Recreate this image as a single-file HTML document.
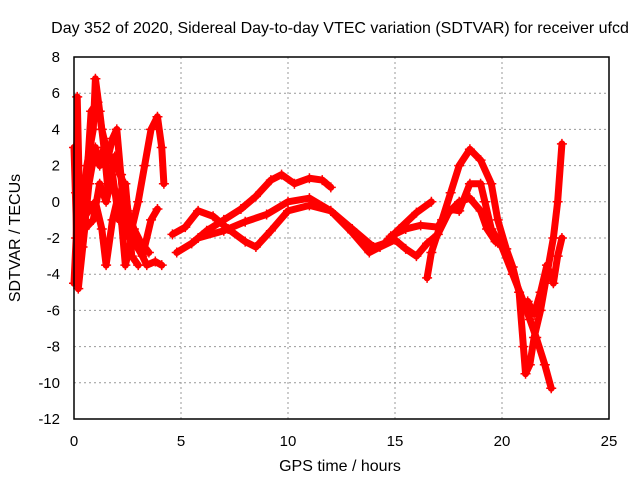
<!DOCTYPE html>
<html><head><meta charset="utf-8"><style>
body{margin:0;background:#fff}
svg{display:block;font-family:"Liberation Sans",sans-serif}
</style></head><body>
<svg id="chart" width="640" height="480">
<rect width="640" height="480" fill="#fff"/>
<text x="340" y="33" font-size="16" text-anchor="middle" fill="#000">Day 352 of 2020, Sidereal Day-to-day VTEC variation (SDTVAR) for receiver ufcd</text>
<text x="340" y="471" font-size="16" text-anchor="middle">GPS time / hours</text>
<text transform="translate(20,238) rotate(-90)" font-size="16" text-anchor="middle">SDTVAR / TECUs</text>
<g id="grid"></g><g id="series"></g>
<rect x="74" y="57" width="535" height="362" fill="none" stroke="#000" stroke-width="1.5"/>
</svg>
<script>
const xTicks=[0,5,10,15,20,25];
const yTicks=[8,6,4,2,0,-2,-4,-6,-8,-10,-12];
const trackA=[[4.8,-2.8],[5.5,-2.3],[6.2,-1.6],[7,-1],[7.8,-0.4],[8.5,0.3],[9.2,1.2],[9.7,1.5],[10.3,1.0],[11,1.3],[11.6,1.2],[12,0.8]];
const trackB=[[4.6,-1.8],[5.2,-1.4],[5.8,-0.5],[6.5,-0.8],[7.2,-1.5],[8,-2.2],[8.5,-2.5],[9.2,-1.6],[10,-0.5],[11,-0.2],[12,-0.5],[13,-1.5],[14,-2.5],[14.5,-2.3],[15.2,-1.5],[16,-0.6],[16.7,0]];
const trackC=[[5.8,-2],[7,-1.6],[8,-1.1],[9,-0.7],[10,0],[11,0.2],[12,-0.5],[13,-1.7],[13.8,-2.8],[14.3,-2.5],[15,-2.1],[15.5,-2.6],[16,-3],[16.5,-2.3],[17,-1.8],[17.5,-0.6],[18,0],[18.5,0.2],[19,-0.5],[19.3,-1.5],[19.7,-2.2],[20,-2.4]];
const trackD=[[16.5,-4.2],[16.7,-2.8],[17.2,-1],[17.6,0.5],[18,2],[18.5,2.9],[19,2.3],[19.5,1],[19.8,-1],[20.2,-2.6],[20.5,-3.6],[20.8,-5],[21,-8],[21.1,-9.5],[21.3,-9],[21.5,-7.5],[21.8,-6],[22.1,-4],[22.4,-2],[22.6,0],[22.8,3.2]];
const trackE=[[14.8,-1.9],[15.5,-1.5],[16.2,-1.3],[17,-1.4],[17.5,-0.4],[18,-0.5],[18.5,1],[19,1],[19.2,0],[19.5,-1.5],[20,-2.5],[20.5,-4],[21,-5.5],[21.3,-6.5],[21.6,-7.5],[22,-9],[22.3,-10.3]];
const trackF=[[21.2,-5.5],[21.5,-6.2],[21.8,-5],[22.1,-3.5],[22.4,-4.5],[22.6,-3],[22.8,-2]];
const trackG=[[0,-4.5],[0.1,-2],[0.15,5.8],[0.3,-2],[0.6,2],[0.9,4],[1.0,6.8],[1.2,5],[1.5,2],[1.8,3.5],[2,4],[2.3,0],[2.6,-2],[3,0],[3.3,2],[3.6,4],[3.9,4.7],[4.1,3],[4.2,1]];
const trackH=[[0.2,-3],[0.5,-0.5],[0.8,5],[1.1,5.5],[1.3,4],[1.6,2.5],[2,2],[2.3,1],[2.6,-1],[3,-2.5],[3.4,-3.5],[3.8,-3.3],[4.1,-3.5]];
const trackI=[[0.3,-1],[0.7,-0.5],[1,0],[1.3,-1.5],[1.5,-3.5],[1.8,-1],[2.1,0.5],[2.4,-3.5],[2.7,-2],[3.2,-3],[3.6,-1],[3.9,-0.4]];
const trackJ=[[0.1,0.5],[0.4,-2.5],[0.7,1],[1,3],[1.2,2],[1.4,3],[1.6,0.5],[1.9,2.5],[2.2,1.5],[2.5,-0.5],[2.8,-1.5],[3.1,-2.2],[3.5,-2.8]];
const trackK=[[0,3],[0.2,-4.8],[0.5,-1.5],[0.9,-1],[1.2,1],[1.5,0],[1.8,1.5],[2.1,-1],[2.4,1],[2.7,-3],[3,-3.5]];
const tracks=[trackA,trackB,trackC,trackD,trackE,trackF,trackG,trackH,trackI,trackJ,trackK];
const names=['track-a','track-b','track-c','track-d','track-e','track-f','track-g','track-h','track-i','track-j','track-k'];
const X0=74,X1=609,Y0=419,Y1=57;
const sx=v=>X0+(v-0)/(25-0)*(X1-X0);
const sy=v=>Y0-(v+12)/(20)*(Y0-Y1);
const NS='http://www.w3.org/2000/svg';
const grid=document.getElementById('grid'),ser=document.getElementById('series');
function mk(t,a,p){const e=document.createElementNS(NS,t);for(const k in a)e.setAttribute(k,a[k]);p.appendChild(e);return e;}
xTicks.forEach(v=>{
  if(v>0&&v<25){const l=mk('line',{x1:sx(v),x2:sx(v),y1:Y1,y2:Y0,stroke:'#999','stroke-dasharray':'2,3'},grid);
  
  }
  const t=mk('text',{x:sx(v),y:Y0+27,'font-size':15,'text-anchor':'middle'},grid);t.textContent=v;
  
  
});
yTicks.forEach(v=>{
  if(v<8&&v>-12){const l=mk('line',{x1:X0,x2:X1,y1:sy(v),y2:sy(v),stroke:'#999','stroke-dasharray':'2,3'},grid);
  
  }
  const t=mk('text',{x:X0-14,y:sy(v)+5,'font-size':15,'text-anchor':'end'},grid);t.textContent=v;
  
  
});
tracks.forEach((tr,i)=>{
  const pl=mk('polyline',{points:tr.map(p=>sx(p[0])+','+sy(p[1])).join(' '),fill:'none',stroke:'#f00','stroke-width':7,'stroke-linejoin':'round','stroke-linecap':'round'},ser);
  
  
  tr.forEach(p=>{
    const x=sx(p[0]),y=sy(p[1]);
    const m=mk('path',{d:`M${x-5},${y}H${x+5}M${x},${y-5}V${y+5}`,stroke:'#f00','stroke-width':1.5},ser);
    
    
  });
});
</script>
</body></html>
